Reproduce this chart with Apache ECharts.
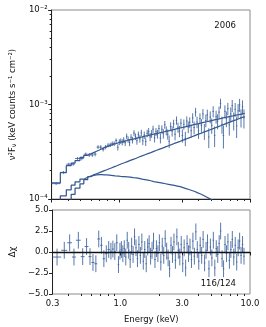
<!DOCTYPE html>
<html><head><meta charset="utf-8">
<script src="https://cdn.jsdelivr.net/npm/echarts@6/dist/echarts.min.js"></script>
<style>html,body{margin:0;padding:0;background:#fff}#c{width:266px;height:327px}</style>
</head><body><div id="c"></div>
<script>
// ---- data (flux values in units of 1e-4 keV counts s^-1 cm^-2) ----
const fluxUnit = 1e-4;
const binEdges = [0.300,0.350,0.389,0.424,0.454,0.495,0.530,0.568,0.599,0.631,0.664,0.699,0.730,0.763,0.796,0.831,0.861,0.891,0.922,0.955,
0.980,1.006,1.032,1.059,1.087,1.116,1.145,1.175,1.206,1.238,
1.270,1.304,1.338,1.373,1.409,1.446,1.484,1.523,1.563,1.604,
1.646,1.689,1.734,1.779,1.826,1.874,1.923,1.974,2.026,2.079,
2.133,2.189,2.247,2.306,2.366,2.428,2.492,2.557,2.625,2.694,
2.764,2.837,2.911,2.988,3.066,3.147,3.229,3.314,3.401,3.490,
3.582,3.676,3.772,3.871,3.973,4.077,4.184,4.294,4.407,4.522,
4.641,4.763,4.888,5.016,5.148,5.283,5.422,5.564,5.710,5.860,
6.014,6.172,6.334,6.500,6.671,6.846,7.026,7.210,7.399,7.594,
7.793,7.998,8.208,8.423,8.644,8.871,9.104];
const modelTotal = [1.48,1.90,2.25,2.40,2.55,2.75,2.90,3.00,3.10,3.20,3.30,3.40,3.50,3.58,3.65,3.72,3.78,3.84,3.90,
3.94,3.97,4.01,4.05,4.08,4.12,4.16,4.20,4.24,4.27,
4.31,4.35,4.39,4.43,4.47,4.50,4.54,4.58,4.62,4.65,
4.69,4.73,4.77,4.81,4.85,4.89,4.93,4.97,5.01,5.05,
5.09,5.14,5.18,5.23,5.27,5.32,5.36,5.41,5.45,5.50,
5.55,5.59,5.64,5.69,5.74,5.79,5.84,5.89,5.94,5.99,
6.04,6.09,6.15,6.20,6.25,6.30,6.35,6.41,6.46,6.51,
6.57,6.62,6.68,6.73,6.79,6.85,6.91,6.97,7.02,7.08,
7.14,7.19,7.25,7.30,7.36,7.41,7.47,7.52,7.58,7.64,
7.70,7.75,7.81,7.87,7.93,7.99,8.05];
const modelPowerlaw = [0.50,0.70,0.97,1.12,1.30,1.45,1.60,1.72,1.80,1.85,1.90,1.95,2.00,2.04,2.09,2.13,2.17,2.21,2.26,
2.29,2.32,2.36,2.39,2.42,2.46,2.49,2.52,2.56,2.60,
2.63,2.67,2.70,2.74,2.78,2.82,2.86,2.90,2.94,2.98,
3.02,3.06,3.10,3.15,3.19,3.23,3.28,3.32,3.37,3.42,
3.46,3.51,3.56,3.61,3.66,3.71,3.76,3.81,3.87,3.92,
3.97,4.03,4.08,4.14,4.20,4.26,4.31,4.37,4.44,4.50,
4.56,4.62,4.69,4.75,4.82,4.88,4.95,5.02,5.09,5.16,
5.23,5.30,5.37,5.45,5.52,5.60,5.68,5.76,5.84,5.92,
6.00,6.08,6.17,6.25,6.34,6.43,6.51,6.60,6.70,6.79,
6.88,6.98,7.07,7.17,7.27,7.37,7.47];
const modelThermal = [0.85,1.08,1.25,1.40,1.52,1.62,1.70,1.75,1.78,1.80,1.81,1.81,1.80,1.80,1.79,1.78,1.77,1.76,1.75,
1.75,1.74,1.73,1.73,1.72,1.71,1.71,1.70,1.70,1.69,1.68,1.68,1.67,
1.66,1.65,1.64,1.62,1.61,1.60,1.59,1.58,1.57,1.56,1.54,1.53,1.52,1.51,1.50,1.49,1.48,1.47,
1.46,1.45,1.44,1.43,1.42,1.41,1.40,1.39,1.38,1.37,1.36,1.35,1.34,1.32,1.31,1.29,1.28,1.26,1.25,1.23,
1.22,1.20,1.18,1.16,1.15,1.13,1.11,1.09,1.07,1.05,1.03,1.01,0.99,0.97,0.95,0.93,0.91,0.89,0.87,0.84,
0.82,0.80,0.78,0.76,0.74,0.72,0.70,0.68,0.66,0.64,0.62,0.61,0.59,0.57,0.55,0.54];
const relErr = [0.030,0.035,0.035,0.040,0.038,0.042,0.042,0.045,0.045,0.048,0.048,0.050,0.050,0.052,0.052,0.055,0.055,0.058,0.058,
0.070,0.072,0.070,0.074,0.075,0.073,0.076,0.078,0.077,0.080,0.079,0.082,0.083,
0.085,0.084,0.088,0.087,0.090,0.092,0.091,0.094,0.096,0.095,0.098,0.100,0.099,0.102,0.104,0.103,0.106,0.108,
0.110,0.112,0.111,0.115,0.117,0.116,0.119,0.121,0.120,0.124,0.126,0.125,0.128,0.130,0.132,0.131,0.135,0.137,0.136,0.140,
0.142,0.144,0.143,0.147,0.149,0.148,0.152,0.154,0.153,0.157,0.159,0.161,0.160,0.164,0.166,0.168,0.167,0.171,0.173,0.175,
0.177,0.176,0.180,0.182,0.184,0.186,0.185,0.189,0.191,0.193,0.195,0.194,0.198,0.200,0.202,0.205];
const residuals = [-0.6,0.2,1.1,-0.6,1.4,-0.55,0.65,-0.55,-1.25,-1.4,1.55,0.8,-0.8,-0.2,0.3,0.1,0.35,0.05,1.1,
-1.5,0.1,0.3,-0.2,0.4,-0.6,1.4,0.2,-0.9,0.7,-0.3,1.8,0.5,
-0.8,0.9,-0.4,1.2,-1.1,0.3,-1.4,0.6,1.0,-0.5,0.2,1.3,-0.9,0.4,-0.2,1.1,-1.2,0.7,
-0.4,1.6,0.1,-0.7,-2.0,0.8,-0.3,1.2,-1.0,1.8,0.2,-0.6,0.9,-1.4,0.5,-1.9,1.0,-0.2,0.6,-0.9,
1.3,-0.5,2.4,0.3,-1.1,0.8,-0.4,1.5,-1.3,0.2,1.1,-2.0,0.6,-0.7,1.4,-1.9,0.4,-0.3,1.0,2.5,
-0.8,-2.0,0.9,-0.2,1.2,-1.0,0.3,1.5,-0.6,0.8,-1.2,0.5,1.3,-0.4,0.9,-0.5];
const xMajorTicks = [0.3, 1, 3, 10];
const xMajorLabels = ['0.3', '1.0', '3.0', '10.0'];
const xMinorTicks = [0.4,0.5,0.6,0.7,0.8,0.9,2,4,5,6,7,8,9];
const yMajorTicks = [1e-4, 1e-3, 1e-2];
const yMajorLabels = ['10\u207B\u2074', '10\u207B\u00B3', '10\u207B\u00B2'];
const yMinorTicks = [2e-4,3e-4,4e-4,5e-4,6e-4,7e-4,8e-4,9e-4,2e-3,3e-3,4e-3,5e-3,6e-3,7e-3,8e-3,9e-3];
const residTicks = [-5, -2.5, 0, 2.5, 5];
const residLabels = ['\u22125.0', '\u22122.5', '0.0', '2.5', '5.0'];
const obsLabel = '2006';
const chiLabel = '116/124';

// ---- build ----
const FONT = 'DejaVu Sans';
const lineColor = '#365891';
const dataColor = 'rgba(60,96,156,0.85)';
const nBins = residuals.length;
const fluxData = [], residData = [];
for (let i = 0; i < nBins; i++) {
  const lo = binEdges[i], hi = binEdges[i + 1];
  const m = modelTotal[i], e = m * relErr[i];
  const f = m + residuals[i] * e;
  fluxData.push([lo, hi, f * fluxUnit, (f - e) * fluxUnit, (f + e) * fluxUnit]);
  residData.push([lo, hi, residuals[i], residuals[i] - 1, residuals[i] + 1]);
}
function stepPts(vals) {
  const pts = [];
  for (let i = 0; i < vals.length; i++) {
    pts.push([binEdges[i], vals[i] * fluxUnit], [binEdges[i + 1], vals[i] * fluxUnit]);
  }
  return pts;
}
function errRender(params, api) {
  const lo = api.value(0), hi = api.value(1), y = api.value(2), y0 = api.value(3), y1 = api.value(4);
  const xc = (lo + hi) / 2;
  const a = api.coord([lo, y]), b = api.coord([hi, y]);
  const c = api.coord([xc, y0]), d = api.coord([xc, y1]);
  const st = { stroke: dataColor, lineWidth: 1 };
  return { type: 'group', children: [
    { type: 'line', shape: { x1: a[0], y1: a[1], x2: b[0], y2: b[1] }, style: st },
    { type: 'line', shape: { x1: c[0], y1: c[1], x2: d[0], y2: d[1] }, style: st }
  ]};
}
function lookup(vals, labels) {
  return v => { for (let i = 0; i < vals.length; i++) if (Math.abs(v - vals[i]) <= Math.abs(vals[i]) * 1e-6 + 1e-12) return labels[i]; return ''; };
}
const txt = { fontFamily: FONT, fontSize: 8.5, color: '#111' };
function xAxisPair(gridIndex, showLabels) {
  return [
    { type: 'log', logBase: 10, gridIndex, position: 'bottom', offset: 0, min: 0.3, max: 10,
      axisLine: { show: true, lineStyle: { color: '#222', width: 1 } },
      axisTick: { show: true, customValues: xMajorTicks, length: 3.5, lineStyle: { color: '#222' } },
      axisLabel: { show: showLabels, customValues: xMajorTicks, formatter: lookup(xMajorTicks, xMajorLabels), margin: 5, ...txt },
      splitLine: { show: false }, minorTick: { show: false },
      name: showLabels ? 'Energy (keV)' : '', nameLocation: 'middle', nameGap: 21, nameTextStyle: txt },
    { type: 'log', logBase: 10, gridIndex, position: 'bottom', offset: 0, min: 0.3, max: 10,
      axisLine: { show: false },
      axisTick: { show: true, customValues: xMinorTicks, length: 2, lineStyle: { color: '#222' } },
      axisLabel: { show: false }, splitLine: { show: false } }
  ];
}
const option = {
  animation: false,
  grid: [
    { left: 47, top: 10, width: 203, height: 189, show: true, borderColor: '#8a8a8a', borderWidth: 1 },
    { left: 47, top: 210, width: 203, height: 84, show: true, borderColor: '#8a8a8a', borderWidth: 1 }
  ],
  xAxis: [...xAxisPair(0, false), ...xAxisPair(1, true)],
  yAxis: [
    { type: 'log', logBase: 10, gridIndex: 0, position: 'left', offset: 0, min: 1e-4, max: 1e-2,
      axisLine: { show: true, lineStyle: { color: '#222' } },
      axisTick: { show: true, customValues: yMajorTicks, length: 3.5, lineStyle: { color: '#222' } },
      axisLabel: { customValues: yMajorTicks, formatter: lookup(yMajorTicks, yMajorLabels), margin: 4, ...txt },
      splitLine: { show: false },
      name: '{t|\u03BD\u00B2F}{s|\u03BD}{t| (keV counts s\u207B\u00B9 cm\u207B\u00B2)}',
      nameLocation: 'middle', nameGap: 32,
      nameTextStyle: { ...txt, rich: { t: { fontFamily: FONT, fontSize: 8.5, color: '#111' }, s: { fontFamily: FONT, fontSize: 6.5, color: '#111', verticalAlign: 'bottom', padding: [4, 0, 0, 0] } } } },
    { type: 'log', logBase: 10, gridIndex: 0, position: 'left', offset: 0, min: 1e-4, max: 1e-2,
      axisLine: { show: false },
      axisTick: { show: true, customValues: yMinorTicks, length: 2, lineStyle: { color: '#222' } },
      axisLabel: { show: false }, splitLine: { show: false } },
    { type: 'value', gridIndex: 1, position: 'left', min: -5, max: 5, interval: 2.5,
      axisLine: { show: true, lineStyle: { color: '#222' } },
      axisTick: { show: true, length: 3.5, lineStyle: { color: '#222' } },
      axisLabel: { formatter: lookup(residTicks, residLabels), margin: 4, ...txt },
      splitLine: { show: false },
      name: '\u0394\u03C7', nameLocation: 'middle', nameGap: 32, nameTextStyle: txt }
  ],
  series: [
    { type: 'custom', xAxisIndex: 0, yAxisIndex: 0, data: fluxData, renderItem: errRender, encode: { x: [0, 1], y: [2, 3, 4] }, clip: true, silent: true },
    { type: 'line', xAxisIndex: 0, yAxisIndex: 0, data: stepPts(modelTotal), showSymbol: false, lineStyle: { color: lineColor, width: 1.25 }, clip: true, silent: true },
    { type: 'line', xAxisIndex: 0, yAxisIndex: 0, data: stepPts(modelPowerlaw), showSymbol: false, lineStyle: { color: lineColor, width: 1.25 }, clip: true, silent: true },
    { type: 'line', xAxisIndex: 0, yAxisIndex: 0, data: stepPts(modelThermal), showSymbol: false, lineStyle: { color: lineColor, width: 1.25 }, clip: true, silent: true },
    { type: 'custom', xAxisIndex: 2, yAxisIndex: 2, data: residData, renderItem: errRender, encode: { x: [0, 1], y: [2, 3, 4] }, clip: true, silent: true,
      markLine: { silent: true, symbol: 'none', label: { show: false }, lineStyle: { color: '#111', width: 1.3, type: 'solid' }, data: [{ yAxis: 0 }] } }
  ],
  graphic: [
    { type: 'text', right: 30, top: 21, style: { text: obsLabel, font: '8.5px "DejaVu Sans"', fill: '#111' } },
    { type: 'text', right: 30, top: 279, style: { text: chiLabel, font: '8.5px "DejaVu Sans"', fill: '#111' } }
  ]
};
const chart = echarts.init(document.getElementById('c'), null, { renderer: 'canvas' });
chart.setOption(option);
</script></body></html>
